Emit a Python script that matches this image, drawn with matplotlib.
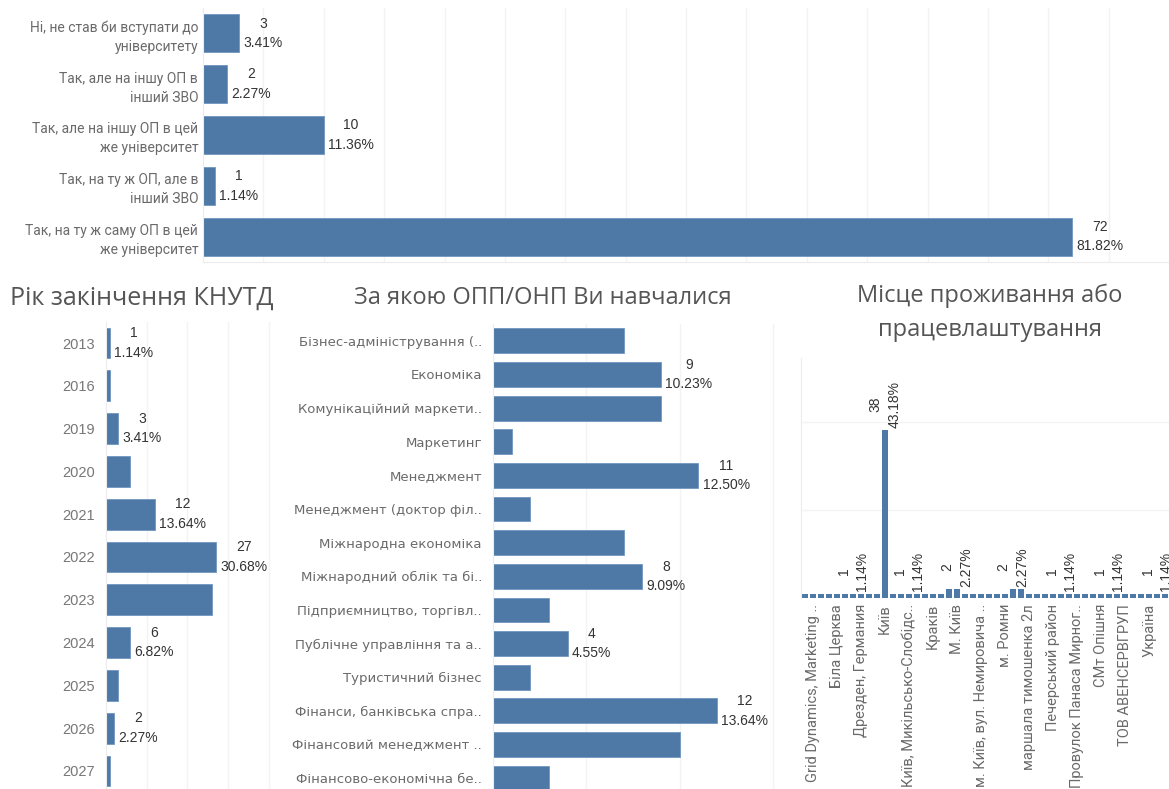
import matplotlib
matplotlib.use("Agg")
import matplotlib.pyplot as plt
import numpy as np

# Чи вступили б Ви знову
plan_labels = [
    "Ні, не став би вступати до\nуніверситету",
    "Так, але на іншу ОП в\nінший ЗВО",
    "Так, але на іншу ОП в цей\nже університет",
    "Так, на ту ж ОП, але в\nінший ЗВО",
    "Так, на ту ж саму ОП в цей\nже університет",
]
plan_counts = [3, 2, 10, 1, 72]

# Рік закінчення КНУТД
years = ["2013", "2016", "2019", "2020", "2021", "2022", "2023", "2024", "2025", "2026", "2027"]
year_counts = [1, 1, 3, 6, 12, 27, 26, 6, 3, 2, 1]
year_labeled = ["2013", "2019", "2021", "2022", "2024", "2026"]

# За якою ОПП/ОНП Ви навчалися
programs = [
    "Бізнес-адміністрування (..",
    "Економіка",
    "Комунікаційний маркети..",
    "Маркетинг",
    "Менеджмент",
    "Менеджмент (доктор філ..",
    "Міжнародна економіка",
    "Міжнародний облік та бі..",
    "Підприємництво, торгівл..",
    "Публічне управління та а..",
    "Туристичний бізнес",
    "Фінанси, банківська спра..",
    "Фінансовий менеджмент ..",
    "Фінансово-економічна бе..",
]
program_counts = [7, 9, 9, 1, 11, 2, 7, 8, 3, 4, 2, 12, 10, 3]
program_labeled = [
    "Економіка",
    "Менеджмент",
    "Міжнародний облік та бі..",
    "Публічне управління та а..",
    "Фінанси, банківська спра..",
]

# Місце проживання або працевлаштування (only every third name is shown)
place_counts = [1, 1, 1, 1, 1, 1, 1, 1, 1, 1, 38, 1, 1, 1, 1, 1,
                1, 1, 2, 2, 1, 1, 1, 1, 1, 1, 2, 2, 1, 1, 1, 1,
                1, 1, 1, 1, 1, 1, 1, 1, 1, 1, 1, 1, 1, 1, 1]
place_names_shown = [
    "Grid Dynamics, Marketing ..",
    "Біла Церква",
    "Дрезден, Германия",
    "Київ",
    "Київ, Микільсько-Слобідс..",
    "Краків",
    "М. Київ",
    "м. Київ, вул. Немировича ..",
    "м. Ромни",
    "маршала тимошенка 2л",
    "Печерський район",
    "Провулок Панаса Мирног..",
    "СМт Опішня",
    "ТОВ АВЕНСЕРВГРУП",
    "Україна",
]
place_labeled_idx = [6, 10, 13, 19, 26, 32, 38, 44]

BLUE = "#4e79a7"
GRID = "#f3f3f3"
TXT = "#333333"
LAB = "#6a6a6a"
TITLE = "#555555"

plt.rcParams["font.family"] = ["Open Sans", "DejaVu Sans"]

W, H = 1169, 789


def box(l, t, r, b):
    return [l / W, 1 - b / H, (r - l) / W, (b - t) / H]


def pct(c, total):
    return f"{c}\n{c / total * 100:.2f}%"


def clean(ax):
    for s in ["top", "right"]:
        ax.spines[s].set_visible(False)
    for s in ["left", "bottom"]:
        ax.spines[s].set_color("#ececec")
    ax.tick_params(length=0)
    ax.set_axisbelow(True)


def hbar(ax, labels, counts, labeled, xmax, step, fsize, family, height):
    total = sum(counts)
    y = np.arange(len(labels))
    ax.barh(y, counts, height=height, color=BLUE, edgecolor="#7097c0", linewidth=0.6)
    ax.set_ylim(len(labels) - 0.5, -0.5)
    ax.set_xlim(0, xmax)
    ax.set_xticks(np.arange(step, xmax, step))
    ax.tick_params(labelbottom=False)
    ax.grid(axis="x", color=GRID, lw=1)
    ax.set_yticks(y)
    ax.set_yticklabels(labels, fontsize=fsize, color=LAB, family=family,
                       linespacing=1.45, ha="right")
    clean(ax)
    for i, (lab, c) in enumerate(zip(labels, counts)):
        if lab in labeled:
            ax.annotate(pct(c, total), (c, i), xytext=(3, 0), textcoords="offset points",
                        ha="left", va="center", multialignment="center",
                        fontsize=10, color=TXT, family="Liberation Sans", linespacing=1.5)


fig = plt.figure(figsize=(W / 100, H / 100), dpi=100)

# top chart
ax1 = fig.add_axes(box(203, 8, 1169, 262))
hbar(ax1, plan_labels, plan_counts, plan_labels, 80, 5, 10, "Roboto", 0.75)

# year chart
ax2 = fig.add_axes(box(106, 321.6, 285, 792.4))
hbar(ax2, years, year_counts, year_labeled, 44, 10, 10.5, "Liberation Sans", 0.72)
ax2.tick_params(axis="y", pad=8, labelcolor="#777777")
fig.text(142 / W, 1 - 298 / H, "Рік закінчення КНУТД", ha="center", va="center",
         fontsize=18, color=TITLE)

# programme chart
ax3 = fig.add_axes(box(493, 324, 790, 795))
hbar(ax3, programs, program_counts, program_labeled, 15.9, 5, 9.5, "DejaVu Sans", 0.74)
ax3.tick_params(axis="y", pad=8)
fig.text(543 / W, 1 - 298 / H, "За якою ОПП/ОНП Ви навчалися", ha="center", va="center",
         fontsize=17, color=TITLE)

# place chart
ax4 = fig.add_axes(box(801, 358, 1177, 598.3))
n = len(place_counts)
x = np.arange(n)
total = sum(place_counts)
ax4.bar(x, place_counts, width=0.68, color=BLUE)
ax4.set_xlim(-0.5, n - 0.5)
ax4.set_ylim(0, 54.4)
ax4.set_yticks([20, 40])
ax4.tick_params(labelleft=False)
ax4.grid(axis="y", color=GRID, lw=1)
ax4.set_xticks(x[1::3][:len(place_names_shown)])
ax4.set_xticklabels(place_names_shown, rotation=90, fontsize=10.5, color=LAB,
                    family="Roboto", ha="center", va="top")
ax4.tick_params(axis="x", pad=4)
clean(ax4)
ax4.spines["bottom"].set_visible(False)
for i in place_labeled_idx:
    c = place_counts[i]
    ax4.annotate(pct(c, total), (i, c), xytext=(0, 2), textcoords="offset points",
                 ha="center", va="bottom", rotation=90, multialignment="center",
                 fontsize=10, color=TXT, family="Liberation Sans", linespacing=1.45)
fig.text(990 / W, 1 - 313 / H, "Місце проживання або\nпрацевлаштування", ha="center",
         va="center", fontsize=17, color=TITLE, linespacing=1.55)

fig.savefig("out.png", dpi=100)
